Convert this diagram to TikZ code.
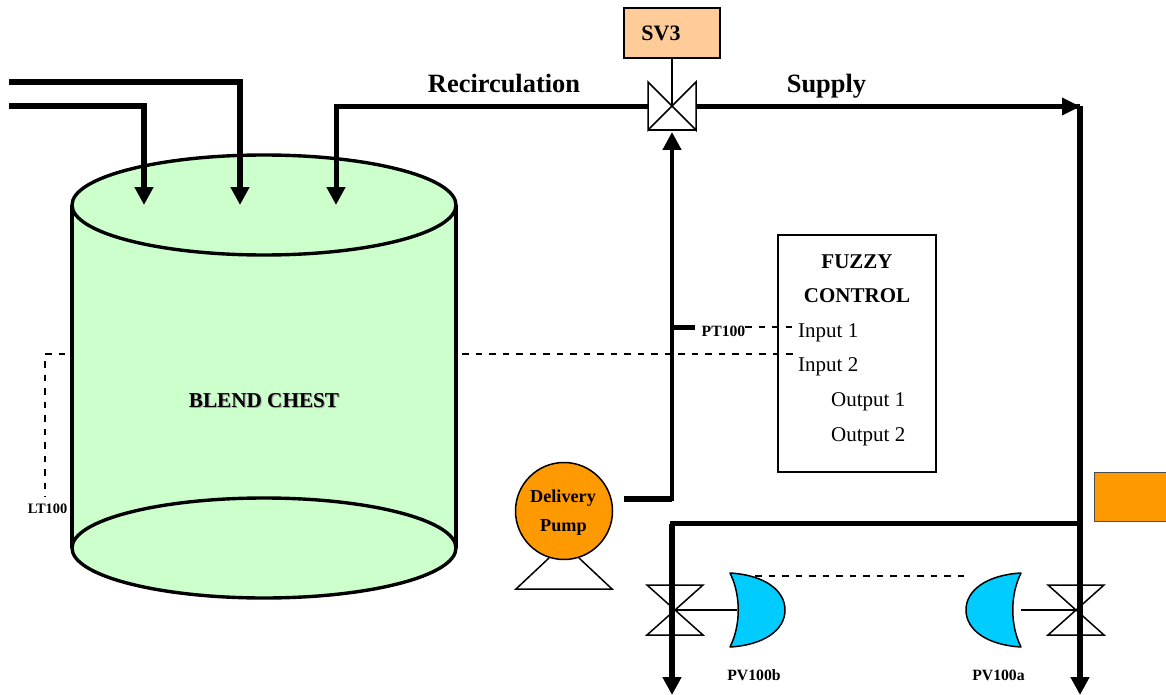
\documentclass[tikz,border=0pt]{standalone}
\usepackage{fontspec}
\setmainfont{Liberation Serif}
\usetikzlibrary{arrows.meta}
\definecolor{tankgreen}{HTML}{CCFFCC}
\definecolor{svpeach}{HTML}{FFCC99}
\definecolor{pumporange}{HTML}{FF9900}
\definecolor{actblue}{HTML}{00CCFF}
\tikzset{
  pipe/.style={line width=#1,line join=miter,draw=black},
  pipe/.default=6pt,
  tip/.style={-{Triangle[length=18pt,width=18pt,sep=0pt]}},
  signal/.style={draw=black,line width=1.4pt,dash pattern=on 6.5pt off 7pt},
  thin line/.style={draw=black,line width=1.5pt},
  vlv/.style={draw=black,line width=1.5pt,line join=miter},
  act/.style={draw=black,line width=1.5pt,fill=actblue,line join=round},
  lab/.style={font=\bfseries\fontsize{15.7}{18}\selectfont,inner sep=0pt},
  big/.style={font=\bfseries\fontsize{26.4}{30}\selectfont,inner sep=0pt},
  mid/.style={font=\bfseries\fontsize{21}{24}\selectfont,inner sep=0pt,align=center},
  pumptext/.style={font=\bfseries\fontsize{18.2}{22}\selectfont,inner sep=0pt},
  io/.style={font=\fontsize{21}{24}\selectfont,inner sep=0pt,anchor=west},
  boxed/.style={draw=black,line width=1.5pt,minimum width=#1,inner sep=0pt},
  blend/.style={font=\bfseries\fontsize{21.2}{24}\selectfont,inner sep=0pt},
}
\begin{document}
\begin{tikzpicture}[x=1pt,y=-1pt]
\useasboundingbox (0,0) rectangle (1166,695);
% tank
\fill[tankgreen] (72,205) rectangle (456,548);
\draw[line width=3.4pt,fill=tankgreen] (264,548) ellipse [x radius=192,y radius=50];
\draw[line width=3.4pt] (72,205) -- (72,548) (456,205) -- (456,548);
\draw[line width=3.4pt,fill=tankgreen] (264,205) ellipse [x radius=192,y radius=50];
\node[blend,text=black!35] at (265,402) {BLEND CHEST};
\node[blend] (tanklabel) at (264,401) {BLEND CHEST};
% coordinates
\coordinate (inA) at (9,82); \coordinate (inAc) at (240,82); \coordinate (inAe) at (240,205);
\coordinate (inB) at (9,106.5); \coordinate (inBc) at (144,106.5); \coordinate (inBe) at (144,205);
\coordinate (recE) at (336,205); \coordinate (recC) at (336,106.5);
\coordinate (sv) at (672,106);
\coordinate (svL) at (648,106.5); \coordinate (svR) at (696,106.5);
\coordinate (corner) at (1080,106.5); \coordinate (mainE) at (1080,695);
\coordinate (branch) at (1080,523.5); \coordinate (branchC) at (672,523.5); \coordinate (branchE) at (672,695);
\coordinate (pumpOut) at (624,498.5); \coordinate (pumpC) at (672,498.5); \coordinate (svIn) at (672,132);
\coordinate (ptA) at (672,327.5); \coordinate (ptB) at (695,327.5);
\coordinate (pvb) at (675,610); \coordinate (pva) at (1076,610);
% pipes
\draw[pipe,tip] (inA) -- (inAc) -- (inAe);
\draw[pipe,tip] (inB) -- (inBc) -- (inBe);
\draw[pipe=5pt,tip] (svL) -- (recC) -- (recE);
\draw[pipe=5pt] (svR) -- (corner);
\fill (corner) -- ++(-18,-9) -- ++(0,18) -- cycle;
\draw[pipe=6.5pt,tip] (corner) -- (mainE);
\draw[pipe=4.5pt] (branch) -- (branchC) -- (672,540);
\draw[pipe=6.5pt,tip] (branchC) -- (branchE);
\draw[pipe=4.5pt,tip] (pumpOut) -- (pumpC) -- (svIn);
\draw[pipe=4.5pt] (ptA) -- (ptB);
\draw[pipe=6pt] (pumpOut) -- (pumpC);
% SV3
\node[boxed=96pt,minimum height=50pt,fill=svpeach] (svbox) at (672,33) {};
\node[font=\bfseries\fontsize{22}{24}\selectfont,inner sep=0pt] (svlabel) at (661,33.5) {SV3};
\draw[thin line] (svbox.south) -- (sv);
\draw[vlv] (648,82) -- (696,130) -- (696,82) -- (648,130) -- cycle;
\draw[vlv] (648,130) -- (696,130);
% valves
\draw[vlv] (647,585) -- (703,585) -- (647,635) -- (703,635) -- cycle;
\draw[vlv] (1048,585) -- (1104,585) -- (1048,635) -- (1104,635) -- cycle;
% actuators
\path[act] (730,573) .. controls (764,575) and (785,590) .. (785,610) .. controls (785,630) and (764,645) .. (730,647) .. controls (741,625) and (741,595) .. cycle;
\path[act] (1021,573) .. controls (987,575) and (966,590) .. (966,610) .. controls (966,630) and (987,645) .. (1021,647) .. controls (1010,625) and (1010,595) .. cycle;
\draw[thin line] (pvb) -- (737,610);
\draw[thin line] (1021,610) -- (pva);
\coordinate (sigA) at (755,576); \coordinate (sigB) at (966,576);
\draw[signal] (sigA) -- (sigB);
\node[lab] (pvblab) at (754,675) {PV100b};
\node[lab] (pvalab) at (998.5,675) {PV100a};
% orange box
\node[draw=black!70,line width=1pt,fill=pumporange,minimum width=72pt,minimum height=49pt,inner sep=0pt] (orange) at (1130,496.5) {};
% pump
\node[circle,draw=black,line width=1.5pt,fill=pumporange,minimum size=97pt,inner sep=0pt] (pump) at (564,511) {};
\node[pumptext] (pumplabelA) at (563,498) {Delivery};
\node[pumptext] (pumplabelB) at (563.5,527) {Pump};
\draw[thin line,line join=miter] (549,558) -- (516,589) -- (612,589) -- (579,558);
% fuzzy
\node[boxed=158pt,minimum height=237pt,fill=none] (fuzzy) at (857,353.5) {};
\node[mid] (fz1) at (857,262) {FUZZY};
\node[mid] (fz2) at (857,296) {CONTROL};
\node[io] (in1) at (798,332.5) {Input 1};
\node[io] (in2) at (798,367) {Input 2};
\node[io] (out1) at (831,402) {Output 1};
\node[io] (out2) at (831,437) {Output 2};
% signals
\node[lab] (pt) at (723.5,331) {PT100};
\coordinate (ptS) at (745,327); \coordinate (in1S) at (795,327);
\coordinate (ltS) at (462,354); \coordinate (in2S) at (795,354);
\draw[signal] (ptS) -- (in1S);
\draw[signal] (ltS) -- (in2S);
\coordinate (ltA) at (65,354); \coordinate (ltB) at (45,354); \coordinate (ltC) at (45,497);
\draw[signal] (ltA) -- (ltB) -- (ltC);
\node[font=\bfseries\fontsize{14.4}{16}\selectfont,inner sep=0pt] (lt) at (47.5,508.5) {LT100};
% labels
\node[big,anchor=base] (rec) at (504,93) {Recirculation};
\node[big,anchor=base] (sup) at (826.5,93) {Supply};
\end{tikzpicture}
\end{document}
